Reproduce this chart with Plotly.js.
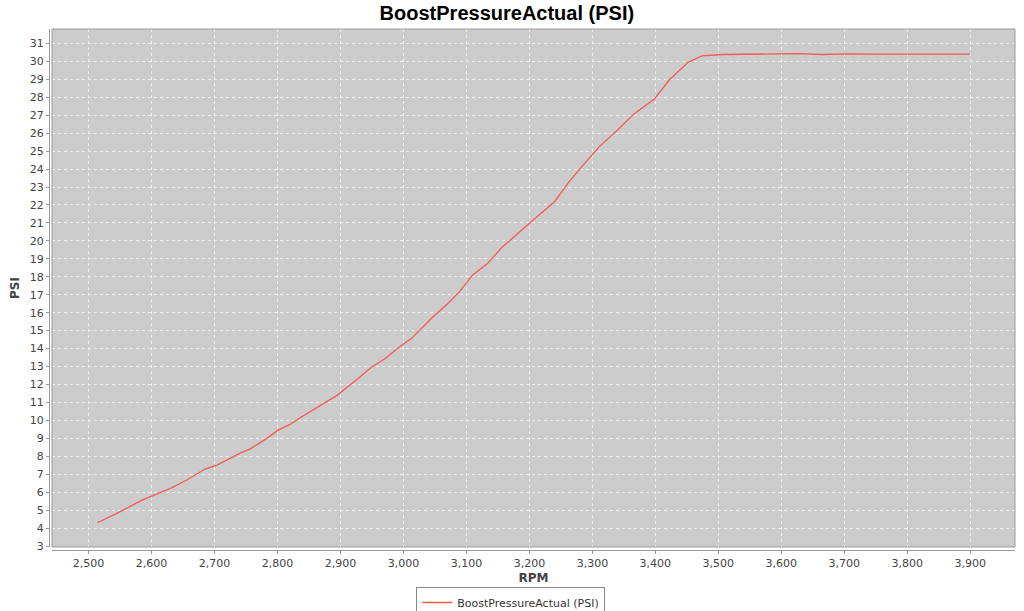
<!DOCTYPE html>
<html><head><meta charset="utf-8">
<script src="https://cdn.plot.ly/plotly-3.0.1.min.js"></script>
<style>html,body{margin:0;padding:0;background:#fff;}#chart{width:1024px;height:611px;}</style>
</head><body><div id="chart"></div>
<script>
const rpm = [2514,2545,2585,2630,2656,2685,2704,2740,2756,2783,2801,2820,2836,2857,2878,2894,2928,2949,2970,2994,3013,3047,3071,3089,3110,3134,3155,3184,3206,3240,3261,3285,3311,3343,3367,3398,3422,3452,3474,3507,3550,3602,3628,3665,3708,3761,3800,3840,3870,3900];
const psi = [4.30,4.82,5.56,6.21,6.68,7.29,7.51,8.16,8.40,9.00,9.46,9.78,10.15,10.58,11.04,11.38,12.34,12.96,13.42,14.10,14.57,15.77,16.52,17.17,18.10,18.75,19.59,20.50,21.16,22.18,23.20,24.20,25.25,26.27,27.10,27.88,28.96,29.95,30.30,30.38,30.40,30.40,30.43,30.38,30.42,30.40,30.40,30.42,30.42,30.40];
const seriesName = 'BoostPressureActual (PSI)';
const chartTitle = 'BoostPressureActual (PSI)';
const xTitle = 'RPM';
const yTitle = 'PSI';

const tickFont = {family: 'DejaVu Sans, Verdana, sans-serif', size: 11, color: '#444444'};
const trace = {
  x: rpm, y: psi, type: 'scatter', mode: 'lines', name: seriesName,
  line: {color: '#f25a52', width: 1.3}
};
const layout = {
  width: 1024, height: 611,
  paper_bgcolor: '#ffffff', plot_bgcolor: '#cccccc',
  margin: {l: 49, r: 9, t: 29, b: 61, autoexpand: false},
  title: {text: chartTitle, x: 0.495, xanchor: 'center', y: 0.978, yanchor: 'middle',
    font: {family: 'Liberation Sans, Arial, sans-serif', size: 20, color: '#000000', weight: 'bold'}},
  xaxis: {
    domain: [0.0031, 1], anchor: 'free', position: 0, automargin: false,
    range: [2442, 3971], tickmode: 'array',
    tickvals: [2500,2600,2700,2800,2900,3000,3100,3200,3300,3400,3500,3600,3700,3800,3900],
    ticktext: ['2,500','2,600','2,700','2,800','2,900','3,000','3,100','3,200','3,300','3,400','3,500','3,600','3,700','3,800','3,900'],
    showgrid: true, gridcolor: '#eeeeee', griddash: 'dot', gridwidth: 1,
    showline: true, linecolor: '#999999', linewidth: 1,
    ticks: 'outside', ticklen: 3, tickcolor: '#999999',
    tickfont: tickFont, zeroline: false,
    title: {text: xTitle, standoff: 4, font: {family: 'DejaVu Sans, Verdana, sans-serif', size: 12, color: '#444444', weight: 'bold'}}
  },
  yaxis: {
    domain: [0.0058, 1], anchor: 'free', position: 0, automargin: false,
    range: [2.95, 31.8], tickmode: 'linear', tick0: 3, dtick: 1,
    showgrid: true, gridcolor: '#eeeeee', griddash: 'dot', gridwidth: 1,
    showline: true, linecolor: '#999999', linewidth: 1,
    ticks: 'outside', ticklen: 3, tickcolor: '#999999',
    tickfont: tickFont, zeroline: false,
    title: {text: yTitle, standoff: 6, font: {family: 'DejaVu Sans, Verdana, sans-serif', size: 12, color: '#444444', weight: 'bold'}}
  },
  showlegend: true,
  legend: {orientation: 'h', x: 0.478, xanchor: 'center', y: -0.071, yanchor: 'top',
    bordercolor: '#888888', borderwidth: 1, bgcolor: '#ffffff',
    font: {family: 'DejaVu Sans, Verdana, sans-serif', size: 11, color: '#333333'}},
  shapes: [
    {type: 'rect', xref: 'paper', yref: 'paper', x0: 0.0031, x1: 1, y0: 0.0058, y1: 1,
     line: {color: '#9a9a9a', width: 1}, fillcolor: 'rgba(0,0,0,0)', layer: 'above'}
  ]
};
Plotly.newPlot('chart', [trace], layout, {displayModeBar: false, staticPlot: true});
</script></body></html>
